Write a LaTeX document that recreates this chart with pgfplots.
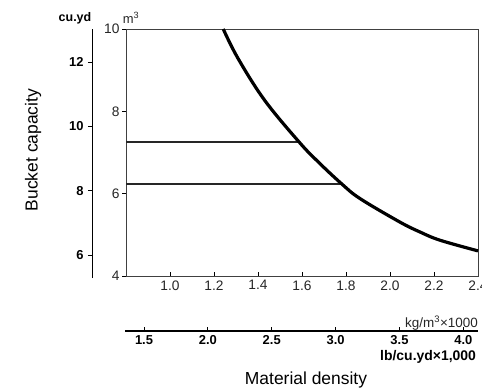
\documentclass[border=0pt]{standalone}
\usepackage{pgfplots}
\pgfplotsset{compat=1.18}
\usepackage{fontspec}
\setmainfont{Liberation Sans}
\begin{document}
\begin{tikzpicture}[x=1bp,y=1bp]
% main axis
\begin{axis}[
  at={(126bp,-276bp)}, anchor=south west, scale only axis,
  width=352bp, height=247bp,
  xmin=0.8, xmax=2.4, ymin=4, ymax=10,
  xtick={1,1.2,1.4,1.6,1.8,2,2.2,2.4},
  ytick={4,6,8,10},
  xtick pos=bottom, ytick pos=left,
  tick align=inside, major tick length=4bp,
  y tick style={xshift=-4bp},
  tick style={black, line width=0.8bp},
  /pgf/number format/assume math mode=true,
  xticklabel style={/pgf/number format/fixed, /pgf/number format/fixed zerofill, /pgf/number format/precision=1, yshift=-1bp},
  ticklabel style={font=\fontsize{13.8}{15}\selectfont, text=black!85},
  yticklabel style={xshift=-3bp},
  axis line style={black!75, line width=1bp},
  clip=false,
]
\addplot[black!85, line width=1.5bp] coordinates {(0.8,7.26) (1.586,7.26)};
\addplot[black!85, line width=1.5bp] coordinates {(0.8,6.24) (1.78,6.24)};
\addplot[black, line width=3.2bp, smooth, tension=0.6] coordinates {
  (1.242,10) (1.309,9.287) (1.43,8.27) (1.586,7.26) (1.674,6.77)
  (1.78,6.24) (1.864,5.88) (2.045,5.31) (2.136,5.07) (2.227,4.87) (2.4,4.61)};
\end{axis}
% left cu.yd axis
\begin{axis}[
  at={(92bp,-278bp)}, anchor=south west, scale only axis,
  width=10bp, height=249bp,
  hide x axis, axis y line*=left,
  xmin=0, xmax=1,
  ymin=5.285, ymax=13.03,
  ytick={6,8,10,12},
  tick align=outside, major tick length=4bp,
  tick style={black, line width=0.8bp},
  axis line style={black, line width=1bp},
  /pgf/number format/assume math mode=true,
  yticklabel style={font=\fontsize{13}{15}\selectfont\bfseries, xshift=-1bp},
]
\addplot[draw=none] coordinates {(0.5,6) (0.5,12)};
\end{axis}
% bottom lb/cu.yd axis
\begin{axis}[
  at={(125bp,-331bp)}, anchor=south west, scale only axis,
  width=353bp, height=10bp,
  hide y axis, axis x line*=bottom,
  xmin=1.351, xmax=4.115,
  ymin=0, ymax=1,
  xtick={1.5,2,2.5,3,3.5,4},
  tick align=inside, major tick length=4bp,
  tick style={black, line width=0.8bp},
  axis line style={black, line width=1.2bp},
  /pgf/number format/assume math mode=true,
  xticklabel style={/pgf/number format/fixed, /pgf/number format/fixed zerofill, /pgf/number format/precision=1, font=\fontsize{13}{15}\selectfont\bfseries, yshift=-1bp},
]
\addplot[draw=none] coordinates {(2,0.5) (3,0.5)};
\end{axis}
% labels
\node[font=\fontsize{12.5}{14}\selectfont\bfseries] at (75bp,-18bp) {cu.yd};
\node[font=\fontsize{13}{14}\selectfont, text=black!85] at (131bp,-18bp) {m\textsuperscript{3}};
\node[rotate=90, font=\fontsize{17.5}{19}\selectfont] at (33bp,-150bp) {Bucket capacity};
\node[font=\fontsize{17.5}{19}\selectfont] at (306bp,-380bp) {Material density};
\node[anchor=west, font=\fontsize{13.5}{15}\selectfont, text=black!85, inner sep=0pt] at (405bp,-323bp) {kg/m\textsuperscript{3}×1000};
\node[anchor=west, font=\fontsize{14}{16}\selectfont\bfseries, inner sep=0pt] at (380bp,-357bp) {lb/cu.yd×1,000};
\pgfresetboundingbox
\path[use as bounding box] (0,0) rectangle (482bp,-389bp);
\end{tikzpicture}
\end{document}
